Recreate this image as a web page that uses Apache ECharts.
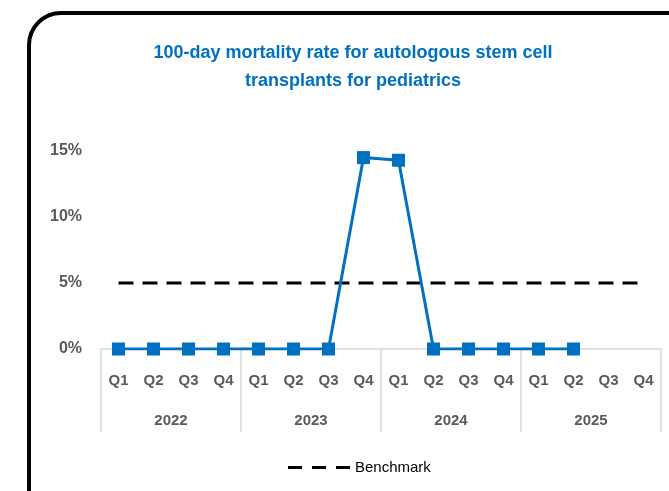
<!DOCTYPE html>
<html>
<head>
<meta charset="utf-8">
<script src="https://cdn.jsdelivr.net/npm/echarts@6/dist/echarts.min.js"></script>
<style>
  html, body { margin: 0; padding: 0; background: #fff; }
  #chart { width: 669px; height: 491px; }
</style>
</head>
<body>
<div id="chart"></div>
<script>
  // quarters and years (two level axis)
  var quarters = ['Q1', 'Q2', 'Q3', 'Q4', 'Q1', 'Q2', 'Q3', 'Q4', 'Q1', 'Q2', 'Q3', 'Q4', 'Q1', 'Q2', 'Q3', 'Q4']
  var years = ['2022', '2023', '2024', '2025']
  // mortality rate, %
  var mortality = [0, 0, 0, 0, 0, 0, 0, 14.5, 14.3, 0, 0, 0, 0, 0, null, null]
  var benchmark = [5, 5, 5, 5, 5, 5, 5, 5, 5, 5, 5, 5, 5, 5, 5, 5]

  var font = '"Liberation Sans", Arial, sans-serif'
  var chart = echarts.init(document.getElementById('chart'))

  var option = {
    backgroundColor: '#fff',
    animation: false,
    title: {
      text: '100-day mortality rate for autologous stem cell\ntransplants for pediatrics',
      left: 348,
      top: 34,
      textAlign: 'center',
      textStyle: {
        color: '#0070C0',
        fontFamily: font,
        fontWeight: 'bold',
        fontSize: 18,
        lineHeight: 28
      }
    },
    graphic: [{
      type: 'rect',
      shape: { x: 29, y: 13, width: 700, height: 540, r: 32 },
      style: { fill: 'none', stroke: '#000', lineWidth: 4 },
      z: 100
    }],
    legend: {
      data: [{ name: 'Benchmark', icon: 'path://M0,0h14v3h-14z M24,0h14v3h-14z M48,0h14v3h-14z' }],
      bottom: 11,
      left: 283,
      itemWidth: 62,
      itemHeight: 3,
      itemGap: 8,
      textStyle: { color: '#000', fontFamily: font, fontSize: 15 }
    },
    grid: {
      left: 101,
      right: 8,
      top: 151,
      bottom: 142
    },
    xAxis: [{
      type: 'category',
      data: quarters,
      axisLine: { lineStyle: { color: '#d9d9d9', width: 1.5 } },
      axisTick: { show: false },
      axisLabel: {
        margin: 24,
        color: '#595959',
        fontFamily: font,
        fontWeight: 'bold',
        fontSize: 15
      }
    }, {
      type: 'category',
      position: 'bottom',
      data: years,
      axisLine: { show: false },
      axisTick: { show: true, length: 83, lineStyle: { color: '#d9d9d9', width: 1.5 } },
      axisLabel: {
        margin: -10,
        padding: [74, 0, 0, 0],
        color: '#595959',
        fontFamily: font,
        fontWeight: 'bold',
        fontSize: 15
      }
    }],
    yAxis: {
      type: 'value',
      min: 0,
      max: 15,
      interval: 5,
      axisLine: { show: false },
      axisTick: { show: false },
      splitLine: { show: false },
      axisLabel: {
        margin: 19,
        formatter: '{value}%',
        color: '#595959',
        fontFamily: font,
        fontWeight: 'bold',
        fontSize: 16
      }
    },
    series: [{
      name: 'Mortality rate',
      type: 'line',
      data: mortality,
      symbol: 'rect',
      symbolSize: 13,
      itemStyle: { color: '#0070C0' },
      lineStyle: { color: '#0070C0', width: 3 },
      z: 3
    }, {
      name: 'Benchmark',
      type: 'line',
      data: benchmark,
      symbol: 'none',
      itemStyle: { color: '#000' },
      lineStyle: { color: '#000', width: 3, type: [15, 9] },
      z: 2
    }]
  }
  chart.setOption(option)
</script>
</body>
</html>
